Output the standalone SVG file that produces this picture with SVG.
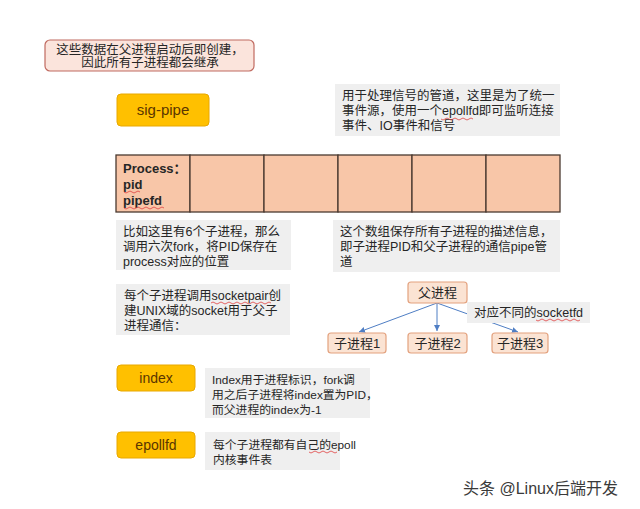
<svg xmlns="http://www.w3.org/2000/svg" width="640" height="509" viewBox="0 0 640 509">
<defs>
<style>
text{font-family:"Liberation Sans","Noto Sans CJK SC",sans-serif;fill:#262626}
.note{fill:#efefef}
.nt{font-size:12.5px}
.ns{font-size:11.8px}
.key{fill:#ffc000;stroke:#e8a800;stroke-width:1}
.kt{font-size:14px;fill:#5a3500;text-anchor:middle}
.cell{fill:#f8c6a8;stroke:#4a3a30;stroke-width:1.3}
.tree{fill:#fbe3d3;stroke:#e3a27f;stroke-width:1.2}
.tt{font-size:13px;text-anchor:middle}
.conn{stroke:#4f7ec4;stroke-width:1;fill:none;marker-end:url(#arr)}
.sq{stroke:#e04040;stroke-width:0.8;fill:none}
</style>
<marker id="arr" markerWidth="8" markerHeight="8" refX="6" refY="3" orient="auto" markerUnits="userSpaceOnUse">
<path d="M0,0 L6,3 L0,6 z" fill="#4f7ec4"/>
</marker>
</defs>
<rect width="640" height="509" fill="#ffffff"/>

<g id="top-note">
<rect x="45" y="40" width="209" height="31" rx="5" fill="#fbe4dc" stroke="#c06a60" stroke-width="1.2"/>
<text class="nt" text-anchor="middle"><tspan x="150" y="54">这些数据在父进程启动后即创建，</tspan><tspan x="150" y="67">因此所有子进程都会继承</tspan></text>
</g>

<g id="sig-pipe">
<rect class="key" x="117" y="94" width="92" height="32" rx="4"/>
<text class="kt" x="163" y="115" style="font-size:15px">sig-pipe</text>
</g>

<g id="sig-pipe-note">
<rect class="note" x="335" y="84" width="225" height="52"/>
<text class="nt"><tspan x="342" y="100">用于处理信号的管道，这里是为了统一</tspan><tspan x="342" y="115">事件源，使用一个epollfd即可监听连接</tspan><tspan x="342" y="130">事件、IO事件和信号</tspan></text>
<path class="sq" d="M441,119 q2,2 4,0 t4,0 t4,0 t4,0 t4,0 t4,0 t4,0 t4,0"/>
</g>

<g id="process-array">
<rect class="cell" x="116" y="155" width="74" height="57"/>
<rect class="cell" x="190" y="155" width="74" height="57"/>
<rect class="cell" x="264" y="155" width="74" height="57"/>
<rect class="cell" x="338" y="155" width="74" height="57"/>
<rect class="cell" x="412" y="155" width="74" height="57"/>
<rect class="cell" x="486" y="155" width="74" height="57"/>
<text style="font-size:13px;font-weight:bold"><tspan x="123" y="173">Process：</tspan><tspan x="123" y="189">pid</tspan><tspan x="123" y="205">pipefd</tspan></text>
<path class="sq" d="M124,192 q2,2 4,0 t4,0 t4,0 t4,0"/>
<path class="sq" d="M124,208 q2,2 4,0 t4,0 t4,0 t4,0 t4,0 t4,0 t4,0 t4,0 t4,0 t4,0"/>
</g>

<g id="fork-note">
<rect class="note" x="116" y="220" width="175" height="50"/>
<text class="nt"><tspan x="123" y="236">比如这里有6个子进程，那么</tspan><tspan x="123" y="251">调用六次fork，将PID保存在</tspan><tspan x="123" y="266">process对应的位置</tspan></text>
</g>

<g id="array-note">
<rect class="note" x="333" y="220" width="227" height="52"/>
<text class="nt"><tspan x="340" y="236">这个数组保存所有子进程的描述信息，</tspan><tspan x="340" y="251">即子进程PID和父子进程的通信pipe管</tspan><tspan x="340" y="266">道</tspan></text>
</g>

<g id="socketpair-note">
<rect class="note" x="116" y="284" width="174" height="51"/>
<text class="nt"><tspan x="124" y="300">每个子进程调用socketpair创</tspan><tspan x="124" y="315">建UNIX域的socket用于父子</tspan><tspan x="124" y="330">进程通信：</tspan></text>
<path class="sq" d="M211,303 q2,-2 4,0 t4,0 t4,0 t4,0 t4,0 t4,0 t4,0 t4,0 t4,0 t4,0 t4,0 t4,0 t4,0 t4,0 t4,0"/>
</g>

<g id="connectors">
<line class="conn" x1="437" y1="303" x2="359" y2="332"/>
<line class="conn" x1="437" y1="303" x2="437" y2="331"/>
<line class="conn" x1="437" y1="303" x2="518" y2="332"/>
</g>

<g id="parent">
<rect class="tree" x="408" y="282" width="59" height="21" rx="3"/>
<text class="tt" x="437.5" y="297">父进程</text>
</g>

<g id="socketfd-label">
<rect class="note" x="467" y="302" width="123" height="21"/>
<text class="nt" x="474" y="317">对应不同的socketfd</text>
<path class="sq" d="M536,320 q2,2 4,0 t4,0 t4,0 t4,0 t4,0 t4,0 t4,0 t4,0 t4,0 t4,0 t4,0"/>
</g>

<g id="child1">
<rect class="tree" x="328" y="333" width="58" height="20" rx="3"/>
<text class="tt" x="357" y="348">子进程1</text>
</g>
<g id="child2">
<rect class="tree" x="408" y="333" width="59" height="20" rx="3"/>
<text class="tt" x="437.5" y="348">子进程2</text>
</g>
<g id="child3">
<rect class="tree" x="492" y="333" width="56" height="20" rx="3"/>
<text class="tt" x="520" y="348">子进程3</text>
</g>

<g id="index">
<rect class="key" x="117" y="365" width="78" height="26" rx="4"/>
<text class="kt" x="156" y="383">index</text>
</g>
<g id="index-note">
<rect class="note" x="205" y="368" width="165" height="50"/>
<text class="ns"><tspan x="212" y="384">Index用于进程标识，fork调</tspan><tspan x="212" y="399">用之后子进程将index置为PID，</tspan><tspan x="212" y="414">而父进程的index为-1</tspan></text>
</g>

<g id="epollfd">
<rect class="key" x="117" y="432" width="78" height="26" rx="4"/>
<text class="kt" x="156" y="450">epollfd</text>
</g>
<g id="epollfd-note">
<rect class="note" x="205" y="432" width="135" height="38"/>
<text class="ns"><tspan x="213" y="449">每个子进程都有自己的epoll</tspan><tspan x="213" y="464">内核事件表</tspan></text>
<path class="sq" d="M309,452 q2,2 4,0 t4,0 t4,0 t4,0 t4,0 t4,0 t4,0"/>
</g>

<text x="463" y="494" style="font-size:16px;fill:#3a3a3a">头条 @Linux后端开发</text>
</svg>
